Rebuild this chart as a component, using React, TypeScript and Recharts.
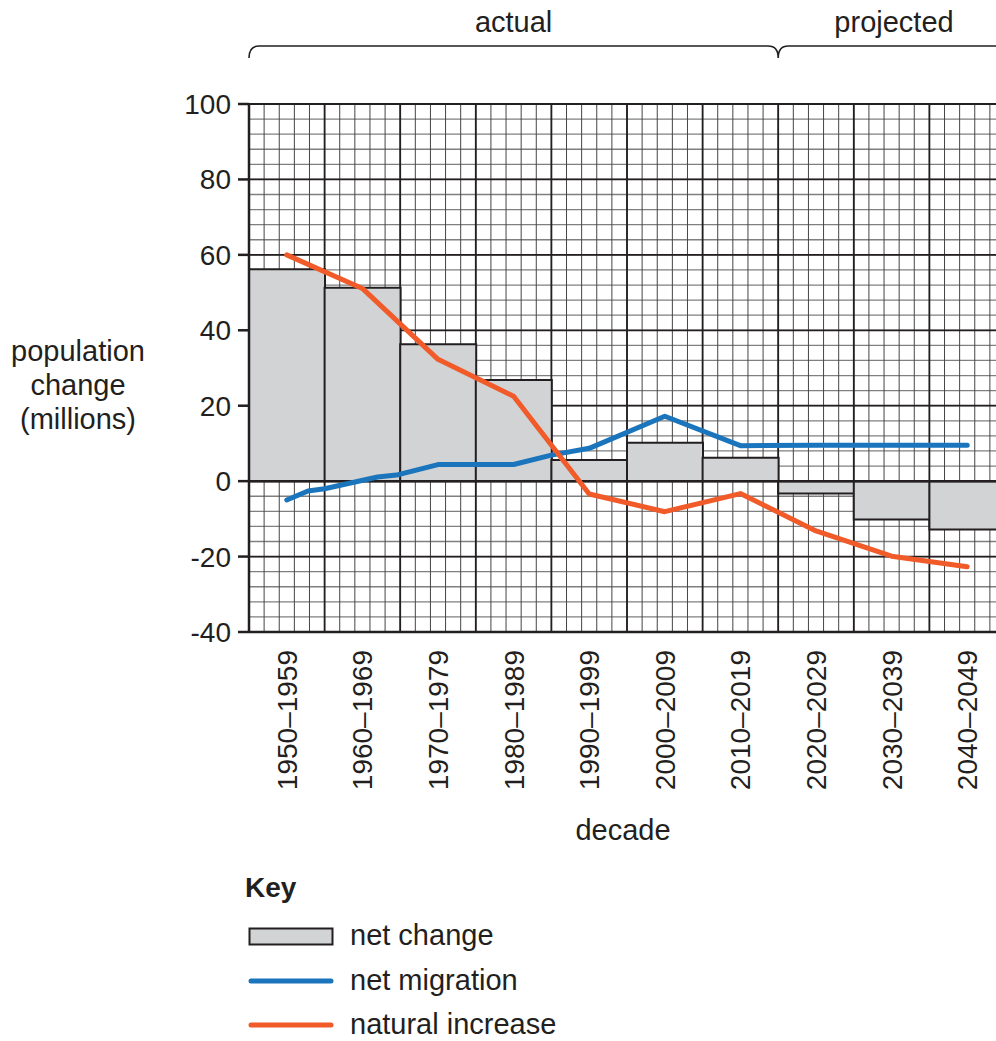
import React from "react";
import {
  ComposedChart,
  Bar,
  Line,
  XAxis,
  YAxis,
  CartesianGrid,
  ReferenceLine,
} from "recharts";

// decade bands
const decades = [
  "1950–1959",
  "1960–1969",
  "1970–1979",
  "1980–1989",
  "1990–1999",
  "2000–2009",
  "2010–2019",
  "2020–2029",
  "2030–2039",
  "2040–2049",
];
const netChange = [56.2, 51.3, 36.3, 26.8, 5.6, 10.2, 6.2, -3.3, -10.2, -12.8];

// lines are positioned in decade units (0 = start of 1950, 10 = end of 2049)
const migrationX = [0.5, 0.78, 1.0, 1.7, 1.95, 2.5, 3.5, 4.0, 4.5, 5.5, 6.5, 7.5, 8.5, 9.5];
const migrationY = [-5, -2.6, -2, 1.1, 1.6, 4.4, 4.4, 6.9, 8.7, 17.2, 9.4, 9.5, 9.5, 9.5];
const naturalX = [0.5, 1.5, 2.5, 3.5, 4.5, 5.5, 6.5, 7.5, 8.5, 9.5];
const naturalY = [60, 51.1, 32.3, 22.5, -3.4, -8.1, -3.3, -13.2, -19.9, -22.7];

const yTicks = [-40, -20, 0, 20, 40, 60, 80, 100];

const barData = decades.map((decade, i) => ({ decade, net: netChange[i] }));
const migrationData = migrationX.map((u, i) => ({ u, v: migrationY[i] }));
const naturalData = naturalX.map((u, i) => ({ u, v: naturalY[i] }));

const INK = "#231f20";
const BLUE = "#1b75bc";
const ORANGE = "#f15a29";
const GREY = "#d1d3d4";
const FONT = "'Liberation Sans', Arial, sans-serif";

// chart geometry
const CHART_W = 1010;
const CHART_H = 822;
const PLOT_LEFT = 249;
const PLOT_TOP = 104;
const PLOT_RIGHT = 1005;
const DECADE_W = (PLOT_RIGHT - PLOT_LEFT) / decades.length;

// graph paper: 5 small squares per decade, 5 per 20 millions
const splitLines = (start: number, size: number, n: number) =>
  Array.from({ length: n + 1 }, (_, i) => start + (i * size) / n);
const minorV = ({ offset }: any) => splitLines(offset.left, offset.width, 50);
const minorH = ({ offset }: any) => splitLines(offset.top, offset.height, 35);
const majorV = ({ offset }: any) => splitLines(offset.left, offset.width, 10);
const majorH = ({ offset }: any) => splitLines(offset.top, offset.height, 7);

function DecadeTick(props: any) {
  const { x, y, payload } = props;
  const ty = y + 10;
  return (
    <text
      x={x}
      y={ty}
      transform={`rotate(-90 ${x} ${ty})`}
      textAnchor="end"
      dy="0.36em"
      fontSize={28}
      fontFamily={FONT}
      fill={INK}
    >
      {payload.value}
    </text>
  );
}

export default function App() {
  const split = PLOT_LEFT + 7 * DECADE_W;
  return (
    <div
      style={{
        position: "absolute",
        left: 0,
        top: 0,
        width: 996,
        height: 1041,
        overflow: "hidden",
        background: "#fff",
        fontFamily: FONT,
        color: INK,
      }}
    >
      {/* actual / projected bracket */}
      <svg width={1010} height={70} style={{ position: "absolute", left: 0, top: 0 }}>
        <path
          d={`M${PLOT_LEFT},58 Q${PLOT_LEFT},46 ${PLOT_LEFT + 10},46 L${split - 10},46 Q${split},46 ${split},58 Q${split},46 ${split + 10},46 L${PLOT_RIGHT},46`}
          fill="none"
          stroke={INK}
          strokeWidth={1.6}
        />
        <text x={(PLOT_LEFT + split) / 2} y={32} textAnchor="middle" fontSize={29} fill={INK} fontFamily={FONT}>
          actual
        </text>
        <text x={894} y={32} textAnchor="middle" fontSize={29} fill={INK} fontFamily={FONT}>
          projected
        </text>
      </svg>

      <div style={{ position: "absolute", left: 0, top: 0 }}>
        <ComposedChart
          width={CHART_W}
          height={CHART_H}
          data={barData}
          margin={{ top: PLOT_TOP, right: CHART_W - PLOT_RIGHT, bottom: 0, left: 0 }}
          barCategoryGap={0}
        >
          <XAxis
            xAxisId="cat"
            dataKey="decade"
            type="category"
            height={CHART_H - 632}
            tick={<DecadeTick />}
            tickLine={false}
            axisLine={{ stroke: INK, strokeWidth: 2.5 }}
            interval={0}
          />
          <XAxis xAxisId="num" dataKey="u" type="number" domain={[0, 10]} allowDataOverflow hide />
          <YAxis
            yAxisId="left"
            type="number"
            domain={[-40, 100]}
            ticks={yTicks}
            width={PLOT_LEFT}
            tickSize={11}
            tickMargin={7}
            interval={0}
            tick={{ fontSize: 28, fill: INK, fontFamily: FONT }}
            tickLine={{ stroke: INK, strokeWidth: 2.5 }}
            axisLine={{ stroke: INK, strokeWidth: 2.5 }}
          />

          {/* fine graph-paper grid */}
          <CartesianGrid
            xAxisId="cat"
            yAxisId="left"
            vertical={false}
            horizontalCoordinatesGenerator={minorH}
            stroke="#7f7f7f"
            strokeWidth={1.3}
          />
          <CartesianGrid
            xAxisId="cat"
            yAxisId="left"
            horizontal={false}
            verticalCoordinatesGenerator={minorV}
            stroke="#454545"
            strokeWidth={1}
          />
          {/* heavy grid every 20 / every decade */}
          <CartesianGrid
            xAxisId="cat"
            yAxisId="left"
            horizontalCoordinatesGenerator={majorH}
            verticalCoordinatesGenerator={majorV}
            stroke={INK}
            strokeWidth={1.8}
          />

          <Bar
            xAxisId="cat"
            yAxisId="left"
            dataKey="net"
            fill={GREY}
            stroke={INK}
            strokeWidth={2}
            isAnimationActive={false}
          />
          <ReferenceLine xAxisId="cat" yAxisId="left" y={0} stroke={INK} strokeWidth={2.5} />
          <Line
            xAxisId="num"
            yAxisId="left"
            data={migrationData}
            dataKey="v"
            type="linear"
            stroke={BLUE}
            strokeWidth={5}
            strokeLinecap="round"
            strokeLinejoin="round"
            dot={false}
            activeDot={false}
            isAnimationActive={false}
          />
          <Line
            xAxisId="num"
            yAxisId="left"
            data={naturalData}
            dataKey="v"
            type="linear"
            stroke={ORANGE}
            strokeWidth={5}
            strokeLinecap="round"
            strokeLinejoin="round"
            dot={false}
            activeDot={false}
            isAnimationActive={false}
          />
        </ComposedChart>
      </div>

      {/* y-axis title */}
      <div
        style={{
          position: "absolute",
          left: 0,
          width: 156,
          top: 334,
          textAlign: "center",
          fontSize: 29,
          lineHeight: "34px",
        }}
      >
        population
        <br />
        change
        <br />
        (millions)
      </div>

      {/* x-axis title */}
      <div style={{ position: "absolute", left: 523, width: 200, top: 813, textAlign: "center", fontSize: 29, lineHeight: "34px" }}>
        decade
      </div>

      {/* key */}
      <div style={{ position: "absolute", left: 245, top: 872, fontSize: 28, fontWeight: "bold", lineHeight: "32px" }}>Key</div>
      <svg width={100} height={120} style={{ position: "absolute", left: 240, top: 920 }}>
        <rect x={9.5} y={8.5} width={83} height={16} fill={GREY} stroke={INK} strokeWidth={2} />
        <line x1={11} y1={61} x2={91} y2={61} stroke={BLUE} strokeWidth={5} strokeLinecap="round" />
        <line x1={11} y1={105} x2={91} y2={105} stroke={ORANGE} strokeWidth={5} strokeLinecap="round" />
      </svg>
      <div style={{ position: "absolute", left: 350, top: 918, fontSize: 29, lineHeight: "34px" }}>net change</div>
      <div style={{ position: "absolute", left: 350, top: 963, fontSize: 29, lineHeight: "34px" }}>net migration</div>
      <div style={{ position: "absolute", left: 350, top: 1007, fontSize: 29, lineHeight: "34px" }}>natural increase</div>
    </div>
  );
}
